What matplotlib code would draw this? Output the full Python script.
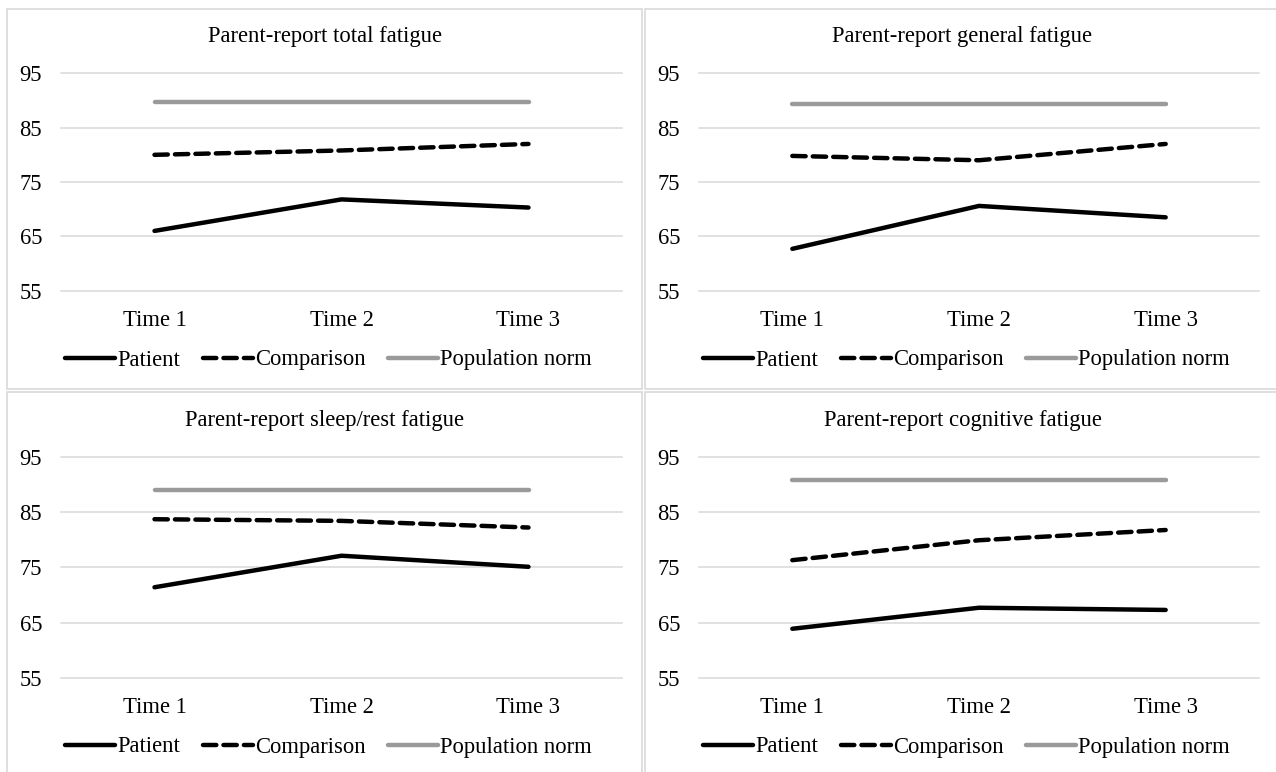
import numpy as np
import matplotlib.pyplot as plt
from matplotlib.patches import Rectangle

plt.rcParams['font.family'] = ['Liberation Serif', 'DejaVu Serif']

# data
times = ["Time 1", "Time 2", "Time 3"]
titles = ["Parent-report total fatigue",
          "Parent-report general fatigue",
          "Parent-report sleep/rest fatigue",
          "Parent-report cognitive fatigue"]
patient = [[66.0, 71.8, 70.3],
           [62.7, 70.6, 68.5],
           [71.4, 77.1, 75.1],
           [63.9, 67.7, 67.3]]
comparison = [[80.0, 80.8, 82.0],
              [79.8, 79.0, 82.0],
              [83.7, 83.4, 82.2],
              [76.3, 79.9, 81.75]]
pop_norm = [89.7, 89.3, 88.9, 90.8]
yticks = [55, 65, 75, 85, 95]

W, H = 1276, 772
fig = plt.figure(figsize=(W / 100, H / 100), dpi=100)


def fx(px):
    return px / W


def fy(py):
    return 1 - py / H


# chart areas (pixels): x0, y0, x1, y1
areas = [(7, 9, 642, 389), (645, 9, 1290, 389),
         (7, 392, 642, 790), (645, 392, 1290, 790)]
# plot areas (pixels): left, right, top(95), bottom(55)
plots = [(61, 622, 73.3, 290.7), (699, 1259, 73.3, 290.7),
         (61, 622, 456.7, 678), (699, 1259, 456.7, 678)]
title_y = [36.7, 36.7, 420, 420]
legend_y = [360, 360, 747, 747]

grey = '#9a9a9a'
fs = 16.3
x = np.arange(len(times))

for i in range(4):
    ax0, ay0, ax1, ay1 = areas[i]
    fig.add_artist(Rectangle((fx(ax0), fy(ay1)), fx(ax1 - ax0), (ay1 - ay0) / H,
                             transform=fig.transFigure, facecolor='none',
                             edgecolor='#d9d9d9', lw=1.2, clip_on=False))
    l, r, t, b = plots[i]
    ax = fig.add_axes([fx(l), fy(b), fx(r - l), (b - t) / H])
    ax.set_xlim(-0.5, 2.5)
    ax.set_ylim(55, 95)
    ax.set_yticks(yticks)
    ax.set_xticks(x)
    ax.set_xticklabels(times)
    ax.grid(axis='y', color='#d9d9d9', lw=1.1)
    for gl in ax.get_ygridlines():
        gl.set_clip_on(False)
    ax.set_axisbelow(True)
    for s in ax.spines.values():
        s.set_visible(False)
    ax.tick_params(length=0, labelsize=fs)
    ax.tick_params(axis='y', pad=13.5)
    ax.tick_params(axis='x', pad=14)

    ax.plot(x, patient[i], color='black', lw=3.2, solid_capstyle='round',
            label='Patient')
    ax.plot(x, comparison[i], color='black', lw=3.2, dashes=(3.0, 1.6),
            dash_capstyle='round', label='Comparison')
    ax.plot(x, [pop_norm[i]] * len(x), color=grey, lw=3.2,
            solid_capstyle='round', label='Population norm')

    cx = (ax0 + ax0 + 635) / 2
    fig.text(fx(cx), fy(title_y[i]), titles[i], ha='center', va='center',
             fontsize=fs)
    ax.legend(loc='center', bbox_to_anchor=(fx(cx + 4), fy(legend_y[i])),
              bbox_transform=fig.transFigure, ncol=3, frameon=False,
              fontsize=fs, handlelength=2.2, handletextpad=0.1,
              columnspacing=1.0, borderpad=0)

fig.savefig('out.png', dpi=100)
